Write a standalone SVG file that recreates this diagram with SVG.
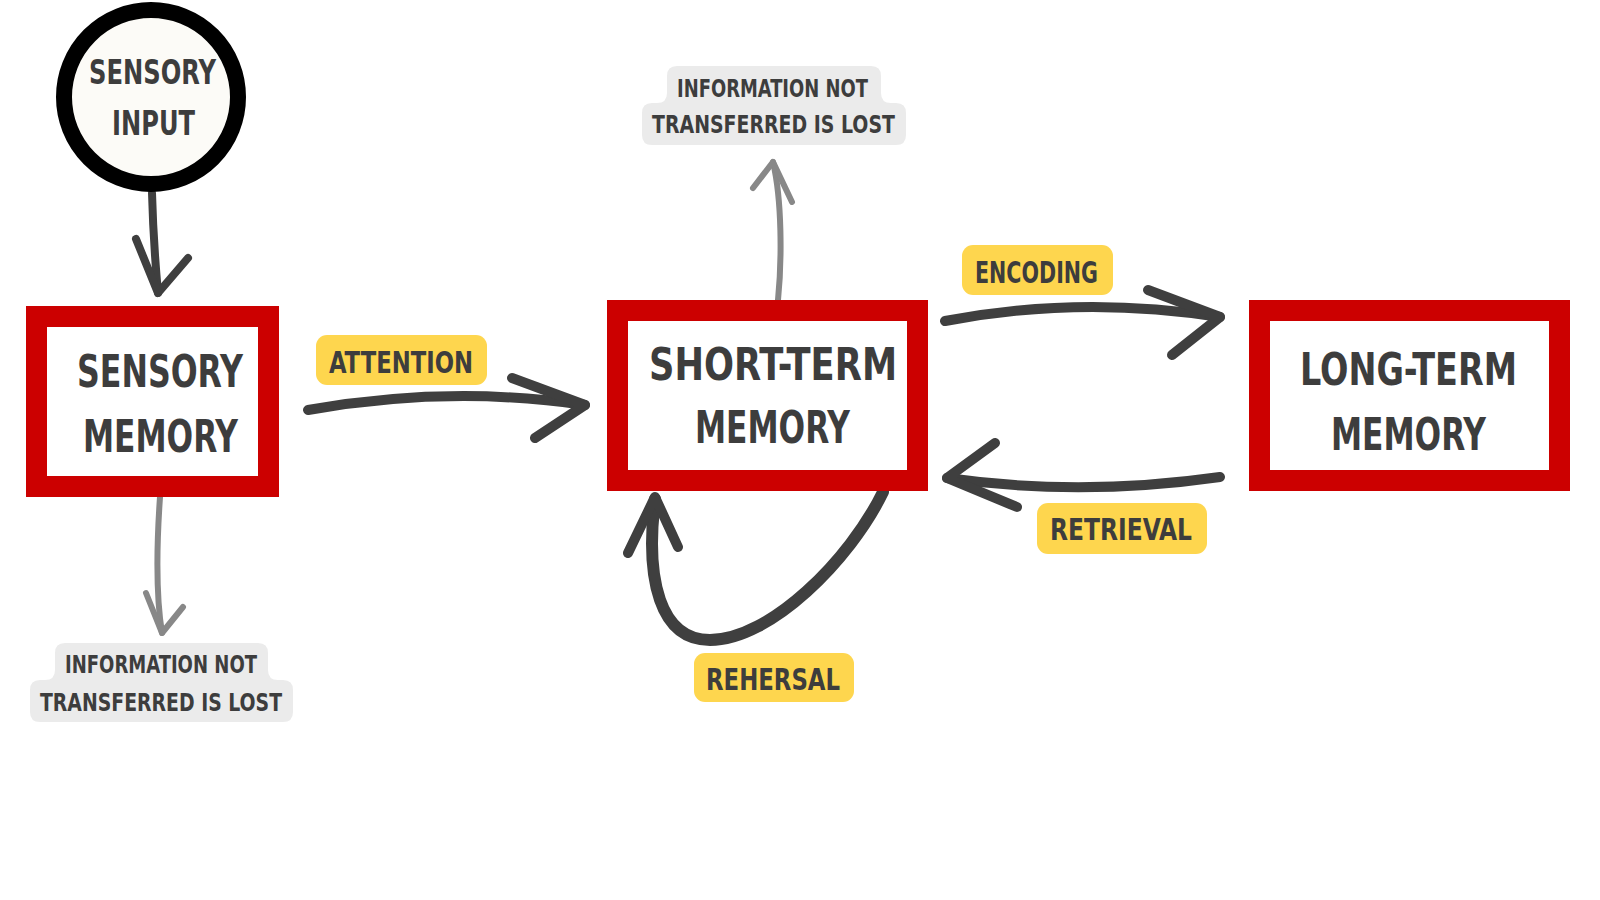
<svg xmlns="http://www.w3.org/2000/svg" width="1600" height="900" viewBox="0 0 1600 900">
<style>
  .t { font-family: "DejaVu Sans Condensed", "DejaVu Sans", "Liberation Sans", sans-serif; font-weight: bold; fill: #3d3d3d; }
  .box { fill: #ffffff; stroke: #cc0000; stroke-width: 21; }
  .tag { fill: #fed64e; }
  .lost { fill: #ebebeb; }
  .dark { fill: none; stroke: #3f3f3f; stroke-linecap: round; stroke-linejoin: round; }
  .gray { fill: none; stroke: #888888; stroke-width: 6; stroke-linecap: round; stroke-linejoin: round; }
  .big { font-size: 44px; }
  .mid { font-size: 33px; }
  .lab { font-size: 30px; }
  .sm { font-size: 25px; }
</style>
<rect width="1600" height="900" fill="#ffffff"/>

<g id="connectors">
  <g id="input-to-sensory">
    <path class="dark" stroke-width="8" d="M 152 193 C 153 230 155 260 158 293"/>
    <path class="dark" stroke-width="8" d="M 136 239 L 158 293 L 188 258"/>
  </g>
  <g id="sensory-lost">
    <path class="gray" d="M 160 497 C 157 540 155 590 162 633"/>
    <path class="gray" d="M 146 593 L 162 633 L 183 607"/>
  </g>
  <g id="attention">
    <path class="dark" stroke-width="10" d="M 308 410 Q 450 385 585 405"/>
    <path class="dark" stroke-width="10" d="M 512 378 L 585 405 L 535 438"/>
  </g>
  <g id="short-lost">
    <path class="gray" d="M 778 300 C 782 260 782 200 773 162"/>
    <path class="gray" d="M 753 188 L 773 162 L 792 202"/>
  </g>
  <g id="encoding">
    <path class="dark" stroke-width="10" d="M 945 321 Q 1080 295 1220 317"/>
    <path class="dark" stroke-width="10" d="M 1148 290 L 1220 317 L 1172 355"/>
  </g>
  <g id="retrieval">
    <path class="dark" stroke-width="10" d="M 1220 477 Q 1080 497 947 478"/>
    <path class="dark" stroke-width="10" d="M 995 443 L 947 478 L 1017 507"/>
  </g>
  <g id="rehearsal">
    <path class="dark" stroke-width="12" d="M 883 492 C 850 560 770 640 710 640 C 660 640 645 580 655 499"/>
    <path class="dark" stroke-width="10" d="M 628 553 L 655 497 L 678 547"/>
  </g>
</g>

<g id="sensory-input">
  <circle cx="151" cy="97" r="87" fill="#fcfbf7" stroke="#000000" stroke-width="16"/>
  <text class="t mid" x="89" y="84" textLength="127" lengthAdjust="spacingAndGlyphs">SENSORY</text>
  <text class="t mid" x="112" y="135" textLength="83" lengthAdjust="spacingAndGlyphs">INPUT</text>
</g>

<g id="sensory-memory">
  <rect class="box" x="36.5" y="316.5" width="232" height="170"/>
  <text class="t big" x="77" y="387" textLength="166" lengthAdjust="spacingAndGlyphs">SENSORY</text>
  <text class="t big" x="83" y="452" textLength="155" lengthAdjust="spacingAndGlyphs">MEMORY</text>
</g>

<g id="short-term-memory">
  <rect class="box" x="617.5" y="310.5" width="300" height="170"/>
  <text class="t big" x="649" y="380" textLength="248" lengthAdjust="spacingAndGlyphs">SHORT-TERM</text>
  <text class="t big" x="695" y="443" textLength="155" lengthAdjust="spacingAndGlyphs">MEMORY</text>
</g>

<g id="long-term-memory">
  <rect class="box" x="1259.5" y="310.5" width="300" height="170"/>
  <text class="t big" x="1300" y="385" textLength="217" lengthAdjust="spacingAndGlyphs">LONG-TERM</text>
  <text class="t big" x="1331" y="450" textLength="155" lengthAdjust="spacingAndGlyphs">MEMORY</text>
</g>

<g id="label-attention">
  <rect class="tag" x="316" y="335" width="171" height="50" rx="11"/>
  <text class="t lab" x="329" y="373" textLength="144" lengthAdjust="spacingAndGlyphs">ATTENTION</text>
</g>

<g id="label-encoding">
  <rect class="tag" x="962" y="245" width="151" height="50" rx="11"/>
  <text class="t lab" x="975" y="283" textLength="123" lengthAdjust="spacingAndGlyphs">ENCODING</text>
</g>

<g id="label-retrieval">
  <rect class="tag" x="1037" y="503" width="170" height="51" rx="11"/>
  <text class="t lab" x="1050" y="540" textLength="142" lengthAdjust="spacingAndGlyphs">RETRIEVAL</text>
</g>

<g id="label-rehersal">
  <rect class="tag" x="694" y="653" width="160" height="49" rx="11"/>
  <text class="t lab" x="706" y="690" textLength="134" lengthAdjust="spacingAndGlyphs">REHERSAL</text>
</g>

<g id="lost-sensory">
  <path class="lost" d="M 65 643 H 258 Q 268 643 268 653 V 670 Q 268 680 278 680 H 283 Q 293 680 293 690 V 712 Q 293 722 283 722 H 40 Q 30 722 30 712 V 690 Q 30 680 40 680 H 45 Q 55 680 55 670 V 653 Q 55 643 65 643 Z"/>
  <text class="t sm" x="65" y="673" textLength="192" lengthAdjust="spacingAndGlyphs">INFORMATION NOT</text>
  <text class="t sm" x="40" y="711" textLength="242" lengthAdjust="spacingAndGlyphs">TRANSFERRED IS LOST</text>
</g>

<g id="lost-short-term">
  <path class="lost" d="M 677 66 H 871 Q 881 66 881 76 V 93 Q 881 103 891 103 H 896 Q 906 103 906 113 V 135 Q 906 145 896 145 H 652 Q 642 145 642 135 V 113 Q 642 103 652 103 H 657 Q 667 103 667 93 V 76 Q 667 66 677 66 Z"/>
  <text class="t sm" x="677" y="97" textLength="191" lengthAdjust="spacingAndGlyphs">INFORMATION NOT</text>
  <text class="t sm" x="652" y="133" textLength="243" lengthAdjust="spacingAndGlyphs">TRANSFERRED IS LOST</text>
</g>
</svg>
